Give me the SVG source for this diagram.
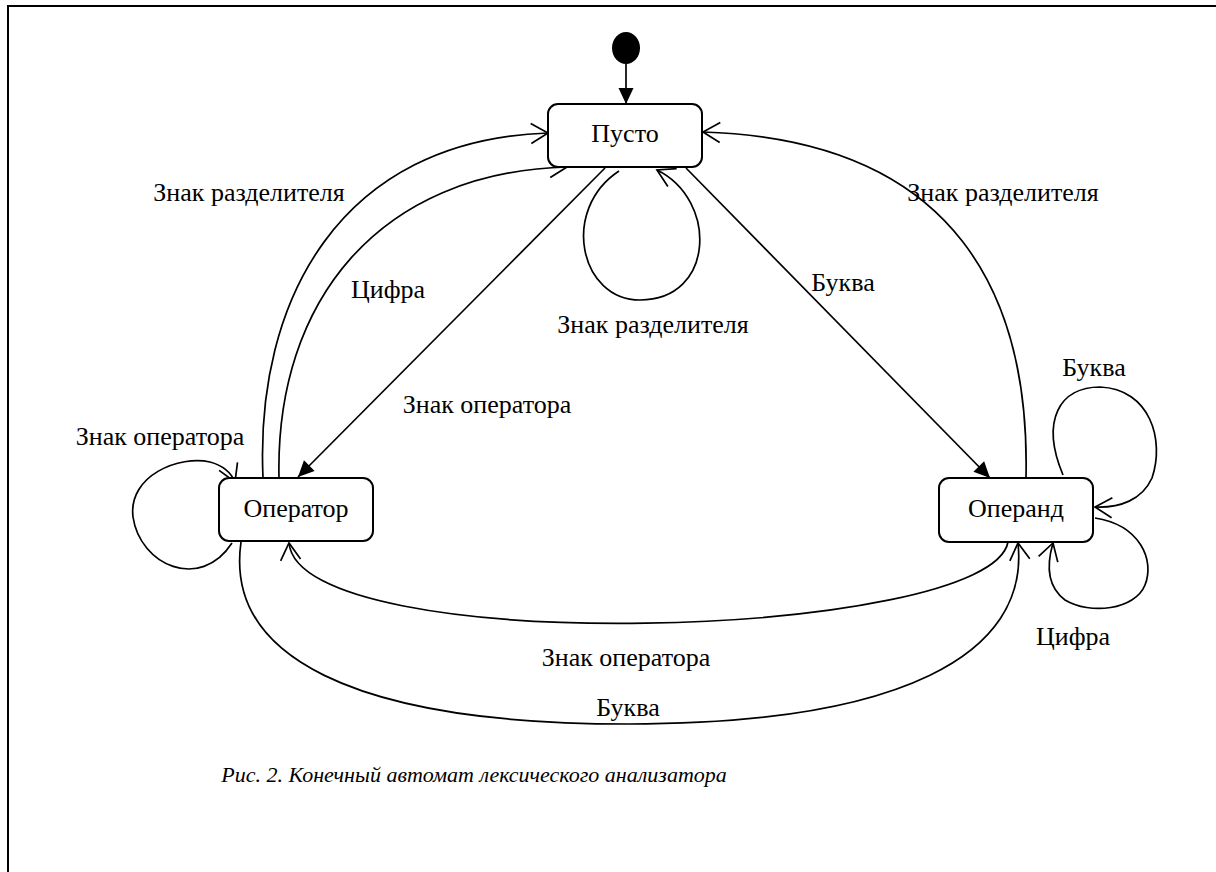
<svg xmlns="http://www.w3.org/2000/svg" width="1216" height="872" viewBox="0 0 1216 872">
<style>
.node rect{fill:#fff;stroke:#000;stroke-width:2}
.c{fill:none;stroke:#000;stroke-width:1.7}
.open{marker-end:url(#open)}
.fill{marker-end:url(#filled)}
</style>
<defs>
<marker id="open" markerUnits="userSpaceOnUse" markerWidth="20" markerHeight="22" refX="17" refY="10" orient="auto" overflow="visible">
<path d="M0,0 L17,10 L0,20" fill="none" stroke="#000" stroke-width="1.7"/>
</marker>
<marker id="filled" markerUnits="userSpaceOnUse" markerWidth="18" markerHeight="16" refX="16" refY="7.5" orient="auto" overflow="visible">
<path d="M0,0 L16,7.5 L0,15 Z" fill="#000"/>
</marker>
</defs>
<rect width="1216" height="872" fill="#fff"/>
<path d="M8,872 V6 H1216" fill="none" stroke="#000" stroke-width="2"/>

<g id="connectors">
<path class="c fill" d="M626,64 V104"/>
<path class="c fill" d="M605,168 L298,477"/>
<path class="c fill" d="M686,168 L990,478"/>
<path class="c open" d="M263,478 C255,300 340,140 548,133"/>
<path class="c open" d="M279,478 C275,300 380,172 567,167"/>
<path class="c open" d="M619,171 C560,210 580,300 640,300 C715,300 718,200 657,170"/>
<path class="c open" d="M1026,478 C1030,300 960,140 703,132"/>
<path class="c open" d="M1063,475 C1040,420 1060,387 1100,387 C1150,389 1165,440 1152,478 C1142,500 1120,508 1095,507"/>
<path class="c open" d="M1095,518 C1140,525 1155,560 1145,585 C1135,610 1090,615 1065,600 C1045,585 1048,560 1053,543"/>
<path class="c open" d="M1008,542 C990,640 300,660 289,543"/>
<path class="c open" d="M241,542 C225,655 350,724 628,724 C900,724 1030,655 1018,543"/>
<path class="c open" d="M232,543 C200,592 140,565 133,517 C128,475 180,455 210,462 C225,466 232,475 235,482"/>
</g>

<g font-family="Liberation Serif, DejaVu Serif, Noto Serif, serif" font-size="26" text-anchor="middle" fill="#000">
<g id="start">
<ellipse cx="626" cy="48" rx="14" ry="16" fill="#000"/>
</g>
<g id="pusto" class="node">
<rect x="548" y="104" width="154" height="63" rx="10"/>
<text x="625" y="142">Пусто</text>
</g>
<g id="operator" class="node">
<rect x="219" y="478" width="154" height="63" rx="10"/>
<text x="296" y="517">Оператор</text>
</g>
<g id="operand" class="node">
<rect x="939" y="478" width="154" height="64" rx="10"/>
<text x="1016" y="517">Операнд</text>
</g>

<g id="labels">
<text x="249" y="201">Знак разделителя</text>
<text x="388" y="298">Цифра</text>
<text x="653" y="333">Знак разделителя</text>
<text x="843" y="291">Буква</text>
<text x="1003" y="201">Знак разделителя</text>
<text x="487" y="413">Знак оператора</text>
<text x="160" y="445">Знак оператора</text>
<text x="1094" y="376">Буква</text>
<text x="1073" y="645">Цифра</text>
<text x="626" y="666">Знак оператора</text>
<text x="628" y="716">Буква</text>
<text x="474" y="782" font-style="italic" font-size="22">Рис. 2. Конечный автомат лексического анализатора</text>
</g>
</g>
</svg>
